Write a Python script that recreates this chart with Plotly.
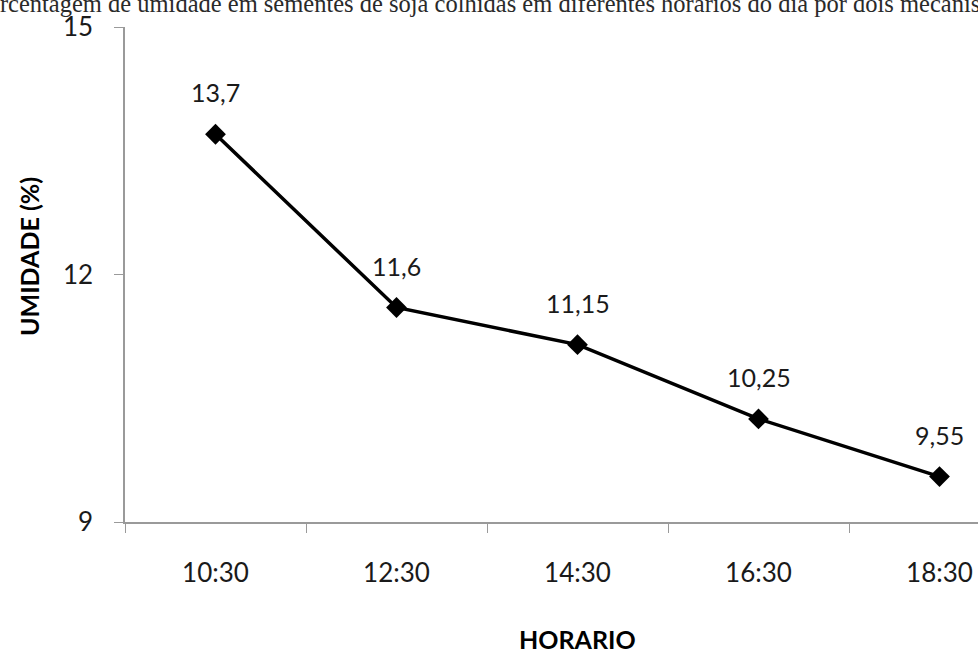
import plotly.graph_objects as go

# Moisture content of soybean seeds harvested at different times of day
horarios = ["10:30", "12:30", "14:30", "16:30", "18:30"]
umidade = [13.7, 11.6, 11.15, 10.25, 9.55]
y_ticks = [9, 12, 15]

titulo = ("Porcentagem de umidade em sementes de soja colhidas em diferentes "
          "horários do dia por dois mecanismos de colheita")

W, H = 978, 651
L, R, T, B = 125, 0, 27, 129
pw, ph = W - L - R, H - T - B
cat_w = 181.0  # pixel width of one category slot


def px_x(p):
    return (p - L) / pw


def px_y(p):
    return (H - B - p) / ph


sans = "Lato, 'Open Sans', sans-serif"
ink = "#1a1a1a"
axis_gray = "#9a9a9a"

fig = go.Figure()
fig.add_trace(go.Scatter(
    x=horarios, y=umidade, mode="lines+markers",
    line=dict(color="black", width=3.5),
    marker=dict(symbol="diamond", size=16, color="black"),
    hoverinfo="skip", showlegend=False,
))

for h, v in zip(horarios, umidade):
    fig.add_annotation(
        x=h, y=v, xref="x", yref="y", text=f"{v:g}".replace(".", ","),
        showarrow=False, yshift=42, font=dict(family=sans, size=25, color=ink),
    )

fig.add_annotation(
    xref="paper", yref="paper", x=px_x(-28), y=px_y(4), xanchor="left",
    yanchor="middle", text=titulo, showarrow=False,
    font=dict(family="'Liberation Serif', serif", size=24.5, color="#2a2a2a"),
)
fig.add_annotation(
    xref="paper", yref="paper", x=px_x(29), y=px_y(257), xanchor="center",
    yanchor="middle", text="<b>UMIDADE (%)</b>", textangle=-90, showarrow=False,
    font=dict(family=sans, size=25, color="black"),
)
fig.add_annotation(
    xref="paper", yref="paper", x=px_x(L + 2.5 * cat_w), y=px_y(639),
    xanchor="center", yanchor="middle", text="<b>HORARIO</b>", showarrow=False,
    font=dict(family=sans, size=25, color="black"),
)

fig.update_layout(
    width=W, height=H, margin=dict(l=L, r=R, t=T, b=B),
    paper_bgcolor="white", plot_bgcolor="white",
    xaxis=dict(
        type="category", range=[-0.5, -0.5 + pw / cat_w],
        tickson="boundaries", ticks="outside", ticklen=9, tickcolor=axis_gray,
        showline=True, linecolor=axis_gray, linewidth=1.5, showgrid=False,
        zeroline=False, ticklabelstandoff=27,
        tickfont=dict(family=sans, size=26, color=ink),
    ),
    yaxis=dict(
        range=[9, 15], tickvals=y_ticks, ticks="outside", ticklen=9,
        tickcolor=axis_gray, showline=True, linecolor=axis_gray, linewidth=1.5,
        showgrid=False, zeroline=False, ticklabelstandoff=16,
        tickfont=dict(family=sans, size=26, color=ink),
    ),
)

fig.write_html("out.html")
